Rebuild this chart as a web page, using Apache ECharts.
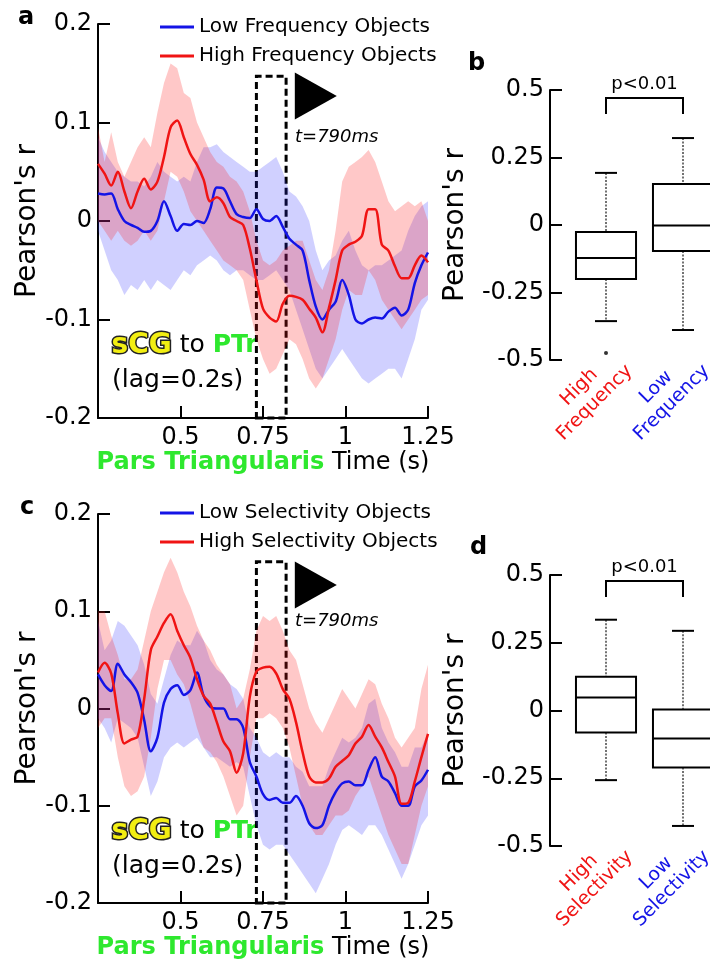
<!DOCTYPE html>
<html>
<head>
<meta charset="utf-8">
<script src="https://cdn.jsdelivr.net/npm/echarts@6/dist/echarts.min.js"></script>
<style>
html, body { margin: 0; padding: 0; background: #fff; }
#chart { width: 710px; height: 968px; }
</style>
</head>
<body>
<div id="chart"></div>
<script>
// time grid (s), shared by panels a and c
const T = [0.25,0.27,0.29,0.31,0.33,0.35,0.37,0.39,0.41,0.43,0.45,0.47,0.49,0.51,0.53,0.55,0.57,0.59,0.61,0.63,
  0.65,0.67,0.69,0.71,0.73,0.75,0.77,0.79,0.81,0.83,0.85,0.87,0.89,0.91,0.93,0.95,0.97,0.99,1.01,1.03,
  1.05,1.07,1.09,1.11,1.13,1.15,1.17,1.19,1.21,1.23,1.25]

// panel a : frequency
const aRed = [0.058,0.048,0.036,0.05,0.03,0.013,0.03,0.043,0.032,0.04,
  0.065,0.095,0.102,0.085,0.068,0.057,0.042,0.02,0.024,0.018,
  0.004,0.0,-0.004,-0.028,-0.06,-0.089,-0.098,-0.102,-0.084,-0.076,
  -0.077,-0.08,-0.089,-0.098,-0.113,-0.088,-0.06,-0.03,-0.024,-0.021,
  -0.015,0.012,0.012,-0.024,-0.03,-0.046,-0.058,-0.058,-0.045,-0.035,
  -0.042]
const aRedUp = [0.095,0.06,0.09,0.06,0.045,0.06,0.075,0.085,0.075,0.11,
  0.14,0.16,0.155,0.13,0.125,0.1,0.085,0.07,0.06,0.055,
  0.045,0.04,0.03,0.01,-0.02,-0.04,-0.045,-0.04,-0.03,-0.025,
  -0.02,-0.02,-0.04,-0.06,-0.07,-0.05,-0.01,0.04,0.055,0.06,
  0.065,0.072,0.06,0.04,0.02,0.01,0.015,0.02,0.015,0.02,
  0.0]
const aRedLo = [0.0,-0.01,-0.02,-0.01,-0.02,-0.025,-0.02,-0.01,-0.02,-0.01,
  0.02,0.05,0.045,0.03,0.01,0.0,-0.01,-0.02,-0.03,-0.04,
  -0.045,-0.05,-0.06,-0.09,-0.12,-0.14,-0.155,-0.15,-0.135,-0.12,
  -0.125,-0.14,-0.16,-0.17,-0.16,-0.14,-0.12,-0.09,-0.07,-0.075,
  -0.075,-0.05,-0.06,-0.08,-0.09,-0.1,-0.11,-0.1,-0.09,-0.08,
  -0.075]
const aBlue = [0.028,0.027,0.028,0.012,0.0,-0.004,-0.007,-0.011,-0.01,0.0,
  0.02,0.005,-0.01,-0.003,-0.004,0.0,-0.002,0.012,0.034,0.033,
  0.02,0.007,0.004,0.003,0.012,0.002,0.0,0.005,-0.006,-0.018,
  -0.024,-0.03,-0.06,-0.087,-0.1,-0.09,-0.082,-0.06,-0.075,-0.1,
  -0.104,-0.1,-0.098,-0.099,-0.092,-0.088,-0.096,-0.09,-0.063,-0.045,
  -0.032]
const aBlueUp = [0.085,0.07,0.06,0.05,0.045,0.04,0.04,0.035,0.045,0.06,
  0.05,0.045,0.04,0.045,0.04,0.06,0.075,0.075,0.078,0.07,
  0.065,0.06,0.055,0.05,0.05,0.055,0.06,0.065,0.05,0.03,
  0.025,0.015,0.0,-0.03,-0.05,-0.04,-0.035,-0.02,-0.01,-0.03,
  -0.045,-0.05,-0.045,-0.045,-0.04,-0.035,-0.03,-0.01,0.005,0.015,
  0.02]
const aBlueLo = [-0.01,-0.03,-0.05,-0.06,-0.075,-0.065,-0.07,-0.06,-0.07,-0.06,
  -0.065,-0.07,-0.06,-0.05,-0.055,-0.045,-0.04,-0.035,-0.04,-0.05,
  -0.055,-0.05,-0.05,-0.055,-0.06,-0.06,-0.055,-0.05,-0.06,-0.07,
  -0.09,-0.11,-0.13,-0.15,-0.16,-0.15,-0.14,-0.13,-0.14,-0.15,
  -0.16,-0.165,-0.16,-0.155,-0.15,-0.15,-0.16,-0.14,-0.12,-0.09,
  -0.08]

// panel c : selectivity
const cRed = [0.037,0.047,0.036,-0.005,-0.036,-0.032,-0.029,0.01,0.06,0.074,
  0.088,0.097,0.08,0.065,0.052,0.03,0.013,0.005,-0.014,-0.034,
  -0.044,-0.066,-0.046,0.012,0.038,0.042,0.043,0.036,0.02,0.01,
  -0.014,-0.045,-0.07,-0.076,-0.076,-0.072,-0.06,-0.054,-0.048,-0.036,
  -0.029,-0.017,-0.029,-0.04,-0.055,-0.07,-0.098,-0.097,-0.075,-0.05,
  -0.026]
const cRedUp = [0.1,0.1,0.075,0.055,0.03,0.03,0.04,0.07,0.1,0.12,
  0.14,0.155,0.14,0.12,0.105,0.085,0.07,0.06,0.045,0.035,
  0.025,0.0,0.01,0.04,0.08,0.095,0.09,0.095,0.08,0.06,
  0.05,0.025,0.0,-0.015,-0.025,-0.01,0.005,0.02,0.01,0.0,
  0.015,0.03,0.025,0.005,-0.01,-0.03,-0.04,-0.03,-0.02,0.02,
  0.045]
const cRedLo = [-0.02,-0.01,-0.01,-0.05,-0.08,-0.09,-0.085,-0.07,-0.03,0.02,
  0.05,0.05,0.035,0.025,0.005,-0.02,-0.04,-0.045,-0.055,-0.07,
  -0.09,-0.11,-0.1,-0.05,-0.01,-0.01,-0.005,-0.01,-0.02,-0.04,
  -0.07,-0.1,-0.12,-0.13,-0.13,-0.12,-0.11,-0.11,-0.105,-0.09,
  -0.08,-0.07,-0.09,-0.11,-0.13,-0.145,-0.16,-0.16,-0.13,-0.1,
  -0.08]
const cBlue = [0.035,0.024,0.018,0.046,0.035,0.027,0.016,-0.012,-0.044,-0.03,
  0.006,0.02,0.024,0.014,0.019,0.037,0.013,0.002,0.0,0.0,
  -0.011,-0.011,-0.02,-0.055,-0.07,-0.088,-0.094,-0.092,-0.097,-0.097,
  -0.09,-0.1,-0.118,-0.123,-0.12,-0.1,-0.086,-0.077,-0.075,-0.079,
  -0.079,-0.063,-0.05,-0.07,-0.075,-0.087,-0.1,-0.1,-0.08,-0.074,
  -0.063]
const cBlueUp = [0.09,0.06,0.07,0.09,0.085,0.075,0.065,0.045,0.015,0.005,
  0.03,0.055,0.07,0.065,0.065,0.08,0.07,0.05,0.04,0.035,
  0.025,0.02,0.01,-0.02,-0.03,-0.045,-0.05,-0.045,-0.05,-0.05,
  -0.06,-0.065,-0.08,-0.08,-0.08,-0.06,-0.045,-0.03,-0.035,-0.03,
  -0.02,0.005,0.01,-0.02,-0.035,-0.045,-0.06,-0.06,-0.04,-0.04,
  -0.025]
const cBlueLo = [-0.01,-0.02,-0.035,-0.01,-0.015,-0.02,-0.03,-0.06,-0.09,-0.075,
  -0.05,-0.04,-0.035,-0.04,-0.035,-0.03,-0.04,-0.05,-0.05,-0.055,
  -0.06,-0.055,-0.06,-0.09,-0.12,-0.14,-0.145,-0.14,-0.14,-0.15,
  -0.16,-0.17,-0.18,-0.19,-0.175,-0.16,-0.14,-0.125,-0.12,-0.125,
  -0.13,-0.12,-0.12,-0.13,-0.145,-0.16,-0.175,-0.16,-0.14,-0.12,
  -0.11]

// boxplots: [min, q1, median, q3, max]
const bCats = ['High\nFrequency', 'Low\nFrequency']
const bHigh = [-0.356, -0.2, -0.122, -0.026, 0.193]
const bLow = [-0.389, -0.096, -0.002, 0.152, 0.322]
const bOutliers = [[0, -0.474]]
const dCats = ['High\nSelectivity', 'Low\nSelectivity']
const dHigh = [-0.257, -0.081, 0.048, 0.125, 0.335]
const dLow = [-0.426, -0.21, -0.103, 0.004, 0.294]

const FONT = '"DejaVu Sans", sans-serif'
const RED = '#f01414'
const BLUE = '#1414e6'
const GREEN = '#2ee82e'

const chart = echarts.init(document.getElementById('chart'))

const pairs = (ys) => T.map((t, i) => [t, ys[i]])

// shaded error band drawn as one polygon through the axis scales
const band = (gi, lo, up, color) => ({
  type: 'custom', xAxisIndex: gi, yAxisIndex: gi, silent: true, z: 1,
  data: T.map((t, i) => [t, lo[i], up[i]]),
  encode: { x: 0, y: [1, 2] },
  renderItem: (params, api) => {
    if (params.dataIndex !== 0) return null
    const top = T.map((t, i) => api.coord([t, up[i]]))
    const bottom = T.map((t, i) => api.coord([t, lo[i]])).reverse()
    return { type: 'polygon', shape: { points: top.concat(bottom) }, style: { fill: color } }
  }
})

const curve = (name, gi, ys, color) => ({
  type: 'line', name: name, xAxisIndex: gi, yAxisIndex: gi,
  symbol: 'none', smooth: 0.3, z: 3, color: color,
  lineStyle: { color: color, width: 2.5 },
  data: pairs(ys)
})

// dashed window + arrow marker
const window790 = (gi, top) => ({
  type: 'line', xAxisIndex: gi, yAxisIndex: gi, z: 10, silent: true,
  symbol: 'none', lineStyle: { opacity: 0 }, data: [[0.73, -0.2]],
  markArea: {
    silent: true,
    itemStyle: { color: 'rgba(0,0,0,0)', borderColor: '#000', borderWidth: 3, borderType: [7, 4] },
    data: [[{ coord: [0.73, -0.2] }, { coord: [0.82, top] }]]
  },
  markPoint: {
    silent: true, symbol: 'triangle', symbolRotate: -90, symbolSize: [47, 42],
    itemStyle: { color: '#000' }, label: { show: false },
    data: [{ coord: [0.91, 0.127] }]
  }
})

const renderBox = (params, api) => {
  const x = api.value(0)
  const lo = api.coord([x, api.value(1)])
  const q1 = api.coord([x, api.value(2)])
  const md = api.coord([x, api.value(3)])
  const q3 = api.coord([x, api.value(4)])
  const hi = api.coord([x, api.value(5)])
  const cx = lo[0]
  const half = api.size([1, 0])[0] * 0.39
  const cap = 11
  const dotted = { stroke: '#444', lineWidth: 1.5, lineDash: [2, 1.5] }
  const solid = { stroke: '#000', lineWidth: 2 }
  return {
    type: 'group',
    children: [
      { type: 'line', shape: { x1: cx, y1: hi[1], x2: cx, y2: q3[1] }, style: dotted },
      { type: 'line', shape: { x1: cx, y1: q1[1], x2: cx, y2: lo[1] }, style: dotted },
      { type: 'line', shape: { x1: cx - cap, y1: hi[1], x2: cx + cap, y2: hi[1] }, style: solid },
      { type: 'line', shape: { x1: cx - cap, y1: lo[1], x2: cx + cap, y2: lo[1] }, style: solid },
      { type: 'rect', shape: { x: cx - half, y: q3[1], width: half * 2, height: q1[1] - q3[1] }, style: { fill: '#fff', stroke: '#000', lineWidth: 2 } },
      { type: 'line', shape: { x1: cx - half, y1: md[1], x2: cx + half, y2: md[1] }, style: solid }
    ]
  }
}

const renderBracket = (params, api) => {
  const a = api.coord([api.value(0), api.value(2)])
  const b = api.coord([api.value(1), api.value(2)])
  const foot = api.coord([api.value(0), api.value(3)])
  const txt = api.coord([api.value(0), api.value(4)])
  return {
    type: 'group',
    children: [
      { type: 'polyline', shape: { points: [[a[0], foot[1]], a, b, [b[0], foot[1]]] }, style: { stroke: '#000', lineWidth: 2, fill: null } },
      { type: 'text', x: (a[0] + b[0]) / 2, y: txt[1], style: { text: 'p<0.01', fontSize: 18, fontFamily: FONT, fill: '#000', align: 'center', verticalAlign: 'middle' } }
    ]
  }
}

const catColor = (v) => (String(v).indexOf('High') === 0 ? RED : BLUE)

// rotated group names under the boxes
const catLabels = (gi, cats) => ({
  type: 'custom', xAxisIndex: gi, yAxisIndex: gi, clip: false, silent: true,
  data: cats.map((c, i) => [i, -0.5]),
  encode: { x: 0, y: 1 },
  renderItem: (params, api) => {
    const p = api.coord([api.value(0), api.value(1)])
    const txt = cats[params.dataIndex]
    return {
      type: 'text', x: p[0] - 19, y: p[1] + 35, rotation: Math.PI / 4,
      style: { text: txt, align: 'center', verticalAlign: 'middle', fontSize: 19, lineHeight: 22, fontFamily: FONT, fill: catColor(txt) }
    }
  }
})

const timeX = (gi) => ({
  type: 'value', gridIndex: gi, min: 0.25, max: 1.25, interval: 0.25,
  axisLine: { onZero: false, lineStyle: { color: '#000', width: 2 } },
  axisTick: { inside: true, length: 12, lineStyle: { color: '#000', width: 2 } },
  axisLabel: { fontSize: 24, color: '#000', fontFamily: FONT, margin: 8, formatter: (v) => (Math.abs(v - 0.25) < 1e-9 ? '' : String(v)) },
  splitLine: { show: false },
  name: '{g|Pars Triangularis} Time (s)', nameLocation: 'middle', nameGap: 32,
  nameTextStyle: { fontSize: 24, color: '#000', fontFamily: FONT, rich: { g: { color: GREEN, fontWeight: 'bold', fontSize: 24, fontFamily: FONT } } }
})

const corrY = (gi, min, max, interval, gap, offset) => ({
  type: 'value', gridIndex: gi, min: min, max: max, interval: interval, offset: offset || 0,
  axisLine: { show: true, onZero: false, lineStyle: { color: '#000', width: 2 } },
  axisTick: { show: true, inside: true, length: 12, lineStyle: { color: '#000', width: 2 } },
  axisLabel: { fontSize: 24, color: '#000', fontFamily: FONT, margin: 6 },
  splitLine: { show: false },
  name: "Pearson's r", nameLocation: 'middle', nameGap: gap,
  nameTextStyle: { fontSize: 28, color: '#000', fontFamily: FONT }
})

// categories sit on the grid edges (boundaryGap off) so the grid stays inside the canvas
const catX = (gi, cats) => ({
  type: 'category', gridIndex: gi, data: cats, boundaryGap: false,
  axisLine: { show: false }, axisTick: { show: false }, axisLabel: { show: false }
})

const legendFor = (top, names) => ({
  data: names, orient: 'vertical', left: 155, top: top, itemWidth: 34, itemHeight: 3, itemGap: 7,
  icon: 'rect', selectedMode: false,
  textStyle: { fontSize: 20, color: '#000', fontFamily: FONT, lineHeight: 22 }
})

const label = (txt, x, y) => ({
  type: 'text', left: x, top: y,
  style: { text: txt, fontSize: 24, fontWeight: 'bold', fontFamily: FONT, fill: '#000' }
})

const seedText = (x, y) => ([
  {
    type: 'text', left: x, top: y,
    style: {
      text: '{y|sCG} {k|to} {g|PTr}', fontSize: 25, fontFamily: FONT,
      rich: {
        y: { fontSize: 28, fontWeight: 'bold', fontFamily: FONT, fill: '#f2ee12', stroke: '#222', lineWidth: 3 },
        k: { fontSize: 25, fontFamily: FONT, fill: '#000' },
        g: { fontSize: 25, fontWeight: 'bold', fontFamily: FONT, fill: GREEN }
      }
    }
  },
  {
    type: 'text', left: x + 2, top: y + 38,
    style: { text: '(lag=0.2s)', fontSize: 25, fontFamily: FONT, fill: '#000' }
  }
])

const tLabel = (y) => ({
  type: 'text', left: 295, top: y,
  style: { text: 't=790ms', fontSize: 18, fontStyle: 'italic', fontFamily: FONT, fill: '#000' }
})

const BAND_RED = 'rgba(255,25,25,0.24)'
const BAND_BLUE = 'rgba(40,40,255,0.22)'

const option = {
  animation: false,
  backgroundColor: '#fff',
  grid: [
    { left: 98, top: 24, width: 330, height: 394 },
    { left: 606, top: 90, width: 77, height: 270 },
    { left: 98, top: 514, width: 330, height: 389 },
    { left: 606, top: 575, width: 77, height: 271 }
  ],
  xAxis: [timeX(0), catX(1, bCats), timeX(2), catX(3, dCats)],
  yAxis: [
    corrY(0, -0.2, 0.2, 0.1, 56),
    corrY(1, -0.5, 0.5, 0.25, 80, 56),
    corrY(2, -0.2, 0.2, 0.1, 56),
    corrY(3, -0.5, 0.5, 0.25, 80, 56)
  ],
  legend: [
    legendFor(11, ['Low Frequency Objects', 'High Frequency Objects']),
    legendFor(497, ['Low Selectivity Objects', 'High Selectivity Objects'])
  ],
  graphic: [
    label('a', 18, 6), label('b', 468, 52), label('c', 20, 496), label('d', 470, 536),
    ...seedText(110, 330), ...seedText(110, 816),
    tLabel(128), tLabel(612)
  ],
  series: [
    band(0, aBlueLo, aBlueUp, BAND_BLUE),
    band(0, aRedLo, aRedUp, BAND_RED),
    curve('Low Frequency Objects', 0, aBlue, BLUE),
    curve('High Frequency Objects', 0, aRed, RED),
    window790(0, 0.147),

    band(2, cBlueLo, cBlueUp, BAND_BLUE),
    band(2, cRedLo, cRedUp, BAND_RED),
    curve('Low Selectivity Objects', 2, cBlue, BLUE),
    curve('High Selectivity Objects', 2, cRed, RED),
    window790(2, 0.151),

    {
      type: 'custom', xAxisIndex: 1, yAxisIndex: 1, renderItem: renderBox, clip: false,
      encode: { x: 0, y: [1, 2, 3, 4, 5] },
      data: [[0, ...bHigh], [1, ...bLow]]
    },
    {
      type: 'scatter', xAxisIndex: 1, yAxisIndex: 1, symbolSize: 4, itemStyle: { color: '#000' },
      data: bOutliers
    },
    {
      type: 'custom', xAxisIndex: 1, yAxisIndex: 1, renderItem: renderBracket, clip: false,
      encode: { x: [0, 1], y: [2, 3, 4] },
      data: [[0, 1, 0.47, 0.411, 0.52]]
    },
    catLabels(1, bCats),
    {
      type: 'custom', xAxisIndex: 3, yAxisIndex: 3, renderItem: renderBox, clip: false,
      encode: { x: 0, y: [1, 2, 3, 4, 5] },
      data: [[0, ...dHigh], [1, ...dLow]]
    },
    {
      type: 'custom', xAxisIndex: 3, yAxisIndex: 3, renderItem: renderBracket, clip: false,
      encode: { x: [0, 1], y: [2, 3, 4] },
      data: [[0, 1, 0.478, 0.419, 0.53]]
    },
    catLabels(3, dCats)
  ]
}

chart.setOption(option)
</script>
</body>
</html>
